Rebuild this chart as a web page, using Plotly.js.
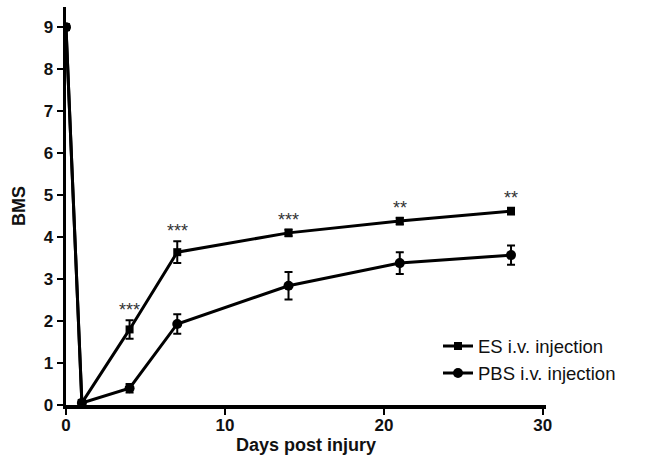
<!DOCTYPE html>
<html><head><meta charset="utf-8">
<script src="https://cdn.plot.ly/plotly-3.0.1.min.js"></script>
<style>html,body{margin:0;padding:0;background:#fff}#chart{width:647px;height:461px}</style>
</head><body><div id="chart"></div>
<script>
var days = [0, 1, 4, 7, 14, 21, 28];
var esMean = [9, 0.05, 1.8, 3.64, 4.1, 4.38, 4.62];
var esErr = [0, 0, 0.22, 0.26, 0.08, 0.08, 0.08];
var pbsMean = [9, 0.05, 0.4, 1.93, 2.84, 3.38, 3.57];
var pbsErr = [0, 0, 0.1, 0.23, 0.33, 0.26, 0.23];
var stars = ["", "", "***", "***", "***", "**", "**"];
var xTicks = [0, 10, 20, 30];
var yTicks = [0, 1, 2, 3, 4, 5, 6, 7, 8, 9];

var FONT = "Liberation Sans, Arial, Helvetica, sans-serif";

var es = {
  x: days, y: esMean, name: "ES i.v. injection", type: "scatter", mode: "lines+markers",
  line: {color: "#000", width: 3},
  marker: {symbol: "square", size: 8, color: "#000"},
  error_y: {type: "data", array: esErr, visible: true, color: "#000", thickness: 2, width: 4}
};
var pbs = {
  x: days, y: pbsMean, name: "PBS i.v. injection", type: "scatter", mode: "lines+markers",
  line: {color: "#000", width: 3},
  marker: {symbol: "circle", size: 10, color: "#000"},
  error_y: {type: "data", array: pbsErr, visible: true, color: "#000", thickness: 2, width: 4}
};

var annotations = [];
for (var i = 0; i < days.length; i++) {
  if (stars[i]) {
    annotations.push({
      x: days[i], y: esMean[i] + esErr[i], xref: "x", yref: "y",
      text: stars[i], showarrow: false, yanchor: "bottom", yshift: -2,
      font: {family: FONT, size: 18, color: "#333"}
    });
  }
}

var layout = {
  width: 647, height: 461,
  margin: {l: 66, r: 101, t: 7, b: 56},
  paper_bgcolor: "#fff", plot_bgcolor: "#fff",
  showlegend: true,
  legend: {x: 0.775, y: 0.195, xanchor: "left", yanchor: "top", bgcolor: "rgba(0,0,0,0)",
    font: {family: FONT, size: 18.5, color: "#111"}, tracegroupgap: 0, itemwidth: 30},
  xaxis: {
    range: [0, 30.2], tickvals: xTicks, ticktext: xTicks.map(String),
    showline: true, linecolor: "#000", linewidth: 3.5, zeroline: false, showgrid: false,
    ticks: "outside", ticklen: 6, tickwidth: 2.5, tickcolor: "#000", ticklabelstandoff: -4,
    tickfont: {family: FONT, size: 17, color: "#111", weight: "bold"},
    title: {text: "Days post injury", font: {family: FONT, size: 18, color: "#111", weight: "bold"}, standoff: 0}
  },
  yaxis: {
    range: [0, 9.48], tickvals: yTicks, ticktext: yTicks.map(String),
    showline: true, linecolor: "#000", linewidth: 3.5, zeroline: false, showgrid: false,
    ticks: "outside", ticklen: 6, tickwidth: 2.5, tickcolor: "#000",
    tickfont: {family: FONT, size: 17, color: "#111", weight: "bold"},
    title: {text: "BMS", font: {family: FONT, size: 18, color: "#111", weight: "bold"}, standoff: 14}
  },
  annotations: annotations
};

Plotly.newPlot("chart", [es, pbs], layout, {displayModeBar: false, staticPlot: true});
</script></body></html>
